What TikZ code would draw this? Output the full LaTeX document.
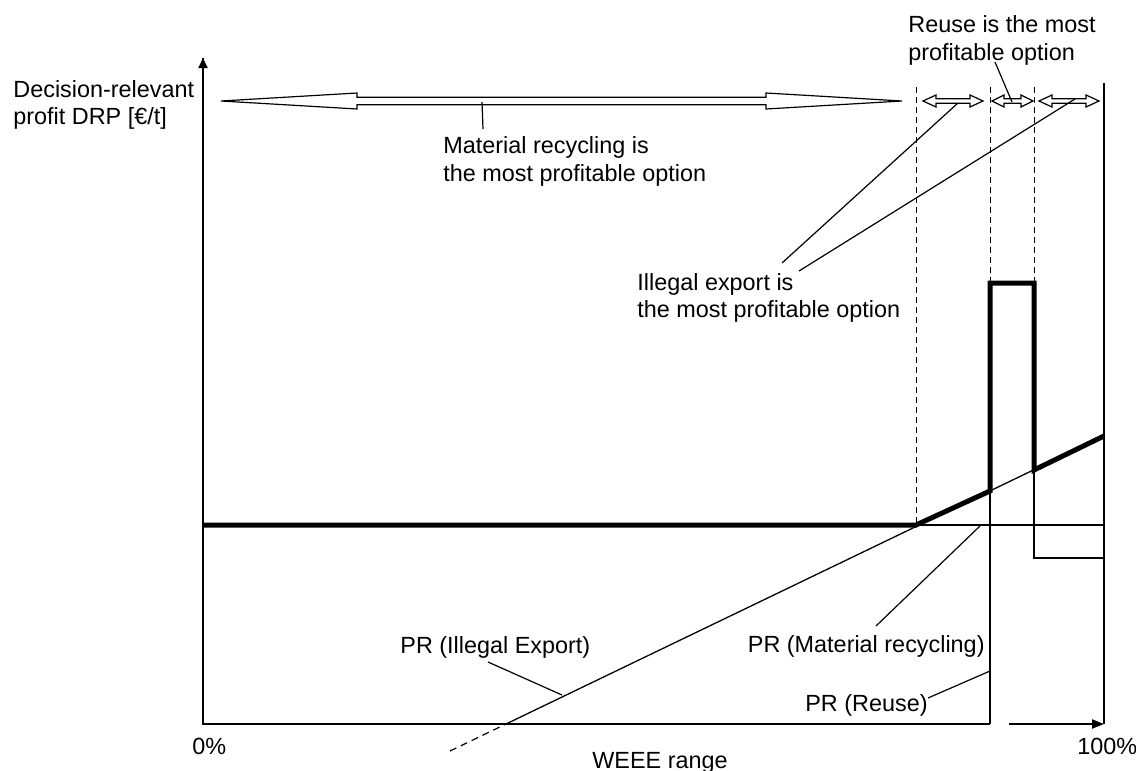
\documentclass[tikz,border=0pt]{standalone}
\usepackage{fontspec}
\setmainfont{Liberation Sans}
\usetikzlibrary{arrows.meta}

% hollow double-headed arrow: x1, x2, y, head length, head half width, shaft half width
\newcommand{\hollowdbl}[6]{%
  \draw[hollow] (#1,#3) -- ({#1+#4},{#3-#5}) -- ({#1+#4},{#3-#6}) -- ({#2-#4},{#3-#6})
    -- ({#2-#4},{#3-#5}) -- (#2,#3) -- ({#2-#4},{#3+#5}) -- ({#2-#4},{#3+#6})
    -- ({#1+#4},{#3+#6}) -- ({#1+#4},{#3+#5}) -- cycle;}

\begin{document}
\begin{tikzpicture}[x=0.5pt,y=-0.5pt,
  lbl/.style={inner sep=0pt, anchor=north west, align=left,
              font=\fontsize{11.7pt}{13.6pt}\selectfont},
  axisline/.style={line width=1pt},
  thinline/.style={line width=0.65pt},
  profit/.style={line width=2.5pt, line join=miter},
  guide/.style={line width=0.5pt, dash pattern=on 3pt off 2pt},
  extension/.style={line width=0.6pt, dash pattern=on 3.5pt off 2.5pt},
  leader/.style={line width=0.6pt},
  hollow/.style={draw, fill=white, line width=0.6pt, line join=miter}
]
\useasboundingbox (0,0) rectangle (1136,771);

% key points of the profit curves
\coordinate (O)      at (203,724);
\coordinate (Ytop)   at (203,58);
\coordinate (Xend)   at (990,724);
\coordinate (Xarrs)  at (1009,724);
\coordinate (Xtip)   at (1104,724);
\coordinate (Rtop)   at (1104,83);
\coordinate (MRl)    at (203,525);
\coordinate (A)      at (916,525);
\coordinate (B)      at (990,491);
\coordinate (Bhi)    at (990,283);
\coordinate (Chi)    at (1034,283);
\coordinate (C)      at (1034,470);
\coordinate (D)      at (1104,436);
\coordinate (MRr)    at (1104,525);
\coordinate (Rlow)   at (1034,558);
\coordinate (Rlowr)  at (1104,558);
\coordinate (IE0)    at (506,724);
\coordinate (IEm)    at (450,751);

% axes and the 100% boundary
\draw[axisline] (Ytop) -- (O) -- (Xend);
\draw[axisline, -{Triangle[length=5pt,width=4.5pt]}] (O) -- (Ytop);
\draw[axisline, -{Triangle[length=6pt,width=4.5pt]}] (Xarrs) -- (Xtip);
\draw[line width=0.8pt] (Rtop) -- (Xtip);

% dashed separators between the ranges
\draw[guide] (916,87) -- (A);
\draw[guide] (990,87) -- (Bhi);
\draw[guide] (1034,87) -- (Chi);

% individual profit lines
\draw[thinline] (A) -- (MRr);
\draw[thinline] (IE0) -- (D);
\draw[extension] (IEm) -- (IE0);
\draw[thinline] (Xend) -- (Bhi);
\draw[thinline] (C) -- (Rlow) -- (Rlowr);

% decision-relevant profit (upper envelope)
\draw[profit] (MRl) -- (A) -- (B) -- (Bhi) -- (Chi) -- (C) -- (D);

% range arrows
\hollowdbl{221}{902}{101}{136}{8}{3.7}
\hollowdbl{923}{983}{101}{13}{6}{2.3}
\hollowdbl{992}{1033}{101}{12}{6}{2.3}
\hollowdbl{1039}{1099}{101}{13}{6}{2.3}

% labels
\node[lbl] (drp) at (13,80) {Decision-relevant\\profit DRP [€/t]};
\node[lbl] (mrtxt) at (443,136.5) {Material recycling is\\the most profitable option};
\node[lbl] (reusetxt) at (908,15.5) {Reuse is the most\\profitable option};
\node[lbl] (ietxt) at (637,273) {Illegal export is\\the most profitable option};
\node[lbl] (prie) at (400,636.5) {PR (Illegal Export)};
\node[lbl, anchor=north east] (prmr) at (985,635) {PR (Material recycling)};
\node[lbl, anchor=north east] (prre) at (928,694.5) {PR (Reuse)};
\node[lbl] (zero) at (192,738) {0\%};
\node[lbl] (hundred) at (1077,738) {100\%};
\node[lbl, anchor=north] (xlab) at (660,751.5) {WEEE range};

% leader lines
\coordinate (mrA) at (482,102);   \coordinate (mrB) at (483,129);
\coordinate (reA) at (1012,102);  \coordinate (reB) at (995,62);
\coordinate (ie1A) at (958,103);  \coordinate (ie1B) at (782,263);
\coordinate (ie2A) at (1075,99);  \coordinate (ie2B) at (799,271);
\coordinate (pieA) at (488,662);  \coordinate (pieB) at (562,695);
\coordinate (pmrA) at (876,626);  \coordinate (pmrB) at (980,526);
\coordinate (preA) at (928,698);  \coordinate (preB) at (990,671);
\draw[leader] (mrB) -- (mrA);
\draw[leader] (reB) -- (reA);
\draw[leader] (ie1B) -- (ie1A);
\draw[leader] (ie2B) -- (ie2A);
\draw[leader] (pieA) -- (pieB);
\draw[leader] (pmrA) -- (pmrB);
\draw[leader] (preA) -- (preB);
\end{tikzpicture}
\end{document}
